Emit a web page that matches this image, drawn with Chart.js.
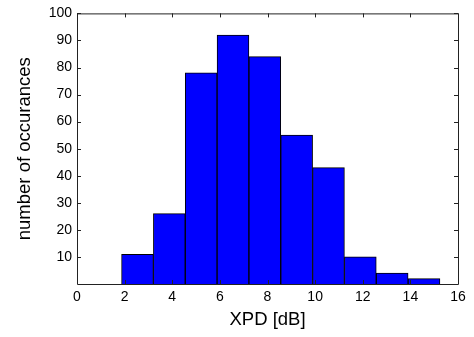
<!DOCTYPE html>
<html>
<head>
<meta charset="utf-8">
<script src="https://cdn.jsdelivr.net/npm/chart.js@4"></script>
<style>
  html, body { margin: 0; padding: 0; background: #fff; }
  #wrap { width: 474px; height: 337px; }
</style>
</head>
<body>
<div id="wrap"><canvas id="hist"></canvas></div>
<script>
// histogram bins (XPD in dB) and counts
const binCenters = [2.540, 3.877, 5.214, 6.551, 7.888, 9.225, 10.562, 11.899, 13.236, 14.573];
const counts = [11, 26, 78, 92, 84, 55, 43, 10, 4, 2];
const xTicks = [0, 2, 4, 6, 8, 10, 12, 14, 16];
const yTicks = [10, 20, 30, 40, 50, 60, 70, 80, 90, 100];

const tickFont = { family: "'Liberation Sans', Arial, sans-serif", size: 14 };
const titleFont = { family: "'Liberation Sans', Arial, sans-serif", size: 18.5 };

// matlab style box with ticks pointing inward
const boxTicks = {
  id: "boxTicks",
  afterDraw(chart) {
    const ctx = chart.ctx;
    const a = chart.chartArea;
    const xs = chart.scales.x;
    const ys = chart.scales.y;
    const len = 4;
    ctx.save();
    ctx.strokeStyle = "#222";
    ctx.lineWidth = 1;
    ctx.beginPath();
    ctx.rect(a.left + 0.5, a.top + 0.5, a.right - a.left, a.bottom - a.top);
    xTicks.forEach((v) => {
      const px = Math.round(xs.getPixelForValue(v)) + 0.5;
      ctx.moveTo(px, a.bottom);
      ctx.lineTo(px, a.bottom - len);
      ctx.moveTo(px, a.top);
      ctx.lineTo(px, a.top + len);
    });
    yTicks.forEach((v) => {
      const py = Math.round(ys.getPixelForValue(v)) + 0.5;
      ctx.moveTo(a.left, py);
      ctx.lineTo(a.left + len, py);
      ctx.moveTo(a.right, py);
      ctx.lineTo(a.right - len, py);
    });
    ctx.stroke();
    ctx.restore();
  },
};

new Chart(document.getElementById("hist"), {
  type: "bar",
  data: {
    datasets: [
      {
        data: binCenters.map((c, i) => ({ x: c, y: counts[i] })),
        backgroundColor: "#0000ff",
        borderColor: "#000",
        borderWidth: 1,
        barPercentage: 1,
        categoryPercentage: 1,
      },
    ],
  },
  plugins: [boxTicks],
  options: {
    responsive: true,
    maintainAspectRatio: false,
    animation: false,
    layout: { padding: { top: 13, right: 16, left: 0, bottom: 0 } },
    plugins: { legend: { display: false }, tooltip: { enabled: false } },
    scales: {
      x: {
        type: "linear",
        min: 0,
        max: 16,
        offset: false,
        grid: { display: false, drawTicks: false },
        border: { display: false },
        afterBuildTicks: (scale) => {
          scale.ticks = xTicks.map((v) => ({ value: v }));
        },
        afterFit: (scale) => {
          scale.height = 53;
        },
        ticks: { color: "#000", font: tickFont, padding: 5, maxRotation: 0 },
        title: { display: true, text: "XPD [dB]", color: "#000", font: titleFont, padding: { top: 0, bottom: 6 } },
      },
      y: {
        min: 0,
        max: 100,
        grid: { display: false, drawTicks: false },
        border: { display: false },
        afterBuildTicks: (scale) => {
          scale.ticks = yTicks.map((v) => ({ value: v }));
        },
        afterFit: (scale) => {
          scale.width = 77;
        },
        ticks: { color: "#000", font: tickFont, padding: 5 },
        title: { display: true, text: "number of occurances", color: "#000", font: titleFont, padding: { top: 14, bottom: 0 } },
      },
    },
  },
});
</script>
</body>
</html>
